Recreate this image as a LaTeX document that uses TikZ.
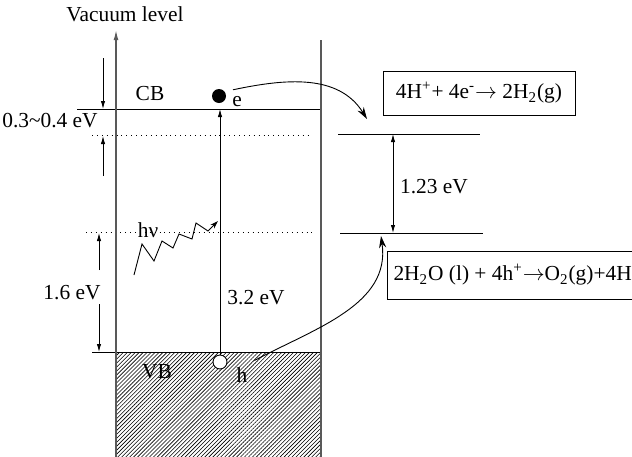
\documentclass[tikz,border=0pt]{standalone}
\usepackage{fontspec}
\setmainfont{Liberation Serif}
\usetikzlibrary{arrows.meta,patterns.meta}
\definecolor{wall}{gray}{0.35}

\tikzset{
  wallline/.style={draw=wall,line width=0.65pt},
  level/.style={line width=0.45pt},
  dotlevel/.style={dotted,line width=0.45pt},
  gaparrow/.style={-{Latex[length=4pt,width=2.2pt]},line width=0.4pt},
  jump/.style={-{Stealth[length=6pt,width=3.6pt]},line width=0.45pt},
  eqbox/.style={draw,line width=0.5pt,inner sep=3pt}
}

\begin{document}
\begin{tikzpicture}[x=0.5pt,y=-0.5pt,font=\fontsize{10.7}{12}\selectfont]
  \useasboundingbox (0,0) rectangle (632,456);

  % valence band filling
  \fill[pattern={Lines[angle=45,distance=1.4pt,line width=0.3pt]}] (116,352) rectangle (321,470);

  % band edges and levels
  \coordinate (cbL) at (77,109);  \coordinate (cbR) at (321,109);
  \coordinate (vbL) at (92,352);  \coordinate (vbR) at (321,352);
  \coordinate (hL) at (338,134);  \coordinate (hR) at (480,134);
  \coordinate (oL) at (340,233);  \coordinate (oR) at (483,233);
  \draw[level] (cbL) -- (cbR);
  \draw[level] (vbL) -- (vbR);
  \draw[dotlevel] (92,135) -- (312,135);
  \draw[dotlevel] (86,232) -- (312,232);
  \draw[level] (hL) -- (hR);
  \draw[level] (oL) -- (oR);

  % walls of the semiconductor
  \draw[wallline,-{Latex[length=5pt,width=2.4pt]}] (116,470) -- (116,30);
  \draw[wallline] (321,40) -- (321,470);

  % labels
  \node (vac) at (125,14) {Vacuum level};
  \node (cb) at (150,94) {CB};
  \node (vb) at (157,372) {VB};
  \node (gapcb) at (50,121) {0.3\textasciitilde0.4 eV};
  \node (gapvb) at (72,293) {1.6 eV};
  \node (egap) at (256,298) {3.2 eV};
  \node (hnu) at (148,230) {hν};
  \node (redox) at (434,187) {1.23 eV};

  % carriers
  \node[circle,fill,inner sep=0pt,minimum size=7pt] (el) at (219,96) {};
  \node (etext) at (237,102) {e};
  \node[circle,draw,fill=white,inner sep=0pt,minimum size=7pt,line width=0.45pt] (hole) at (220,362) {};
  \node (htext) at (242,375) {h};

  % reactions
  \node[eqbox,minimum width=96pt,minimum height=22pt] (hyd) at (479,93)
    {4H\textsuperscript{+}+ 4e\textsuperscript{-}$\rightarrow$ 2H\textsubscript{2}(g)};
  \node[eqbox,anchor=west,minimum height=24pt] (oxy) at (387,275)
    {2H\textsubscript{2}O (l) + 4h\textsuperscript{+}$\rightarrow$O\textsubscript{2}(g)+4H\textsuperscript{+}};

  % energy gaps
  \draw[gaparrow] (103,58) -- (cbL -| 103,0);
  \draw[gaparrow] (103,176) -- (103,136);
  \draw[gaparrow] (99,270) -- (99,233);
  \draw[gaparrow] (99,304) -- (vbL -| 99,0);
  \draw[gaparrow] (hole) -- (cbL -| hole);
  \draw[line width=0.4pt,{Latex[length=4pt,width=2.2pt]}-{Latex[length=4pt,width=2.2pt]}] (393,134) -- (393,233);

  % photon
  \draw[line width=0.45pt,-{Stealth[length=4pt,width=2.6pt]}] (134,275) -- (142,244) -- (154,261)
    -- (162,241) -- (173,248) -- (179,234) -- (192,239) -- (196,223) -- (208,231) -- (218,221);

  % charge transfer
  \coordinate (hplus) at (367,119);
  \coordinate (oxlev) at (381,236);
  \draw[jump] ([xshift=-2pt]etext.north) to[out=12,in=122] (hplus);
  \draw[jump] (htext.north east) to[out=28,in=-82] (oxlev);
\end{tikzpicture}
\end{document}
